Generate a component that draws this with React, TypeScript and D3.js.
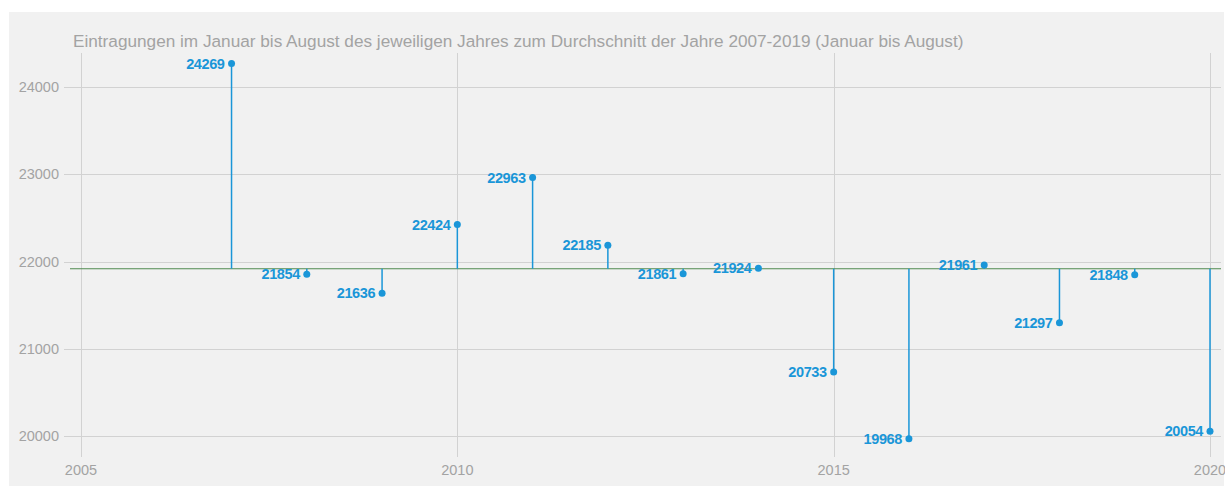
import { useEffect, useRef } from 'react';
import * as d3 from 'd3';

const years = [2007, 2008, 2009, 2010, 2011, 2012, 2013, 2014, 2015, 2016, 2017, 2018, 2019, 2020];
const values = [24269, 21854, 21636, 22424, 22963, 22185, 21861, 21924, 20733, 19968, 21961, 21297, 21848, 20054];
const xTicks = [2005, 2010, 2015, 2020];
const yTicks = [20000, 21000, 22000, 23000, 24000];
const title =
  'Eintragungen im Januar bis August des jeweiligen Jahres zum Durchschnitt der Jahre 2007-2019 (Januar bis August)';

const App = () => {
  const svgRef = useRef<SVGSVGElement>(null!);

  useEffect(() => {
    const width = 1225;
    const height = 486;
    const blue = '#1a96d8';
    const grey = '#a3a3a3';
    const font = 'Liberation Sans, Arial, sans-serif';

    const x = d3.scaleLinear().domain([2005, 2020]).range([81, 1210]);
    const y = d3.scaleLinear().domain([20000, 24000]).range([436, 87]);

    // average of 2007-2019
    const base = d3.mean(values.slice(0, 13)) ?? 0;

    const svg = d3.select(svgRef.current).attr('width', width).attr('height', height);
    svg.selectAll('*').remove();

    svg.append('rect').attr('x', 9).attr('y', 12).attr('width', 1215).attr('height', 474).attr('fill', '#f1f1f1');

    const grid = svg.append('g').attr('stroke', '#d2d2d2').attr('stroke-width', 1);
    grid
      .selectAll('line.h')
      .data(yTicks)
      .enter()
      .append('line')
      .attr('x1', 64)
      .attr('x2', 1221)
      .attr('y1', d => Math.round(y(d)) + 0.5)
      .attr('y2', d => Math.round(y(d)) + 0.5);
    grid
      .selectAll('line.v')
      .data(xTicks)
      .enter()
      .append('line')
      .attr('x1', d => Math.round(x(d)) + 0.5)
      .attr('x2', d => Math.round(x(d)) + 0.5)
      .attr('y1', 53)
      .attr('y2', 457);

    svg
      .append('g')
      .selectAll('text')
      .data(yTicks)
      .enter()
      .append('text')
      .attr('x', 59)
      .attr('y', d => y(d))
      .attr('dy', '0.35em')
      .attr('text-anchor', 'end')
      .attr('fill', grey)
      .attr('font-family', font)
      .attr('font-size', 14.5)
      .text(d => d);

    svg
      .append('g')
      .selectAll('text')
      .data(xTicks)
      .enter()
      .append('text')
      .attr('x', d => x(d))
      .attr('y', 475)
      .attr('text-anchor', 'middle')
      .attr('fill', grey)
      .attr('font-family', font)
      .attr('font-size', 14.5)
      .text(d => d);

    svg
      .append('text')
      .attr('x', 73)
      .attr('y', 47)
      .attr('fill', grey)
      .attr('font-family', font)
      .attr('font-size', 17.2)
      .text(title);

    svg
      .append('line')
      .attr('x1', 70)
      .attr('x2', 1221)
      .attr('y1', y(base))
      .attr('y2', y(base))
      .attr('stroke', '#4f8a4f')
      .attr('stroke-width', 1.2);

    const data = years.map((yr, i) => ({ yr, v: values[i] }));

    svg
      .append('g')
      .selectAll('line')
      .data(data)
      .enter()
      .append('line')
      .attr('x1', d => x(d.yr))
      .attr('x2', d => x(d.yr))
      .attr('y1', y(base))
      .attr('y2', d => y(d.v))
      .attr('stroke', blue)
      .attr('stroke-width', 1.5);

    svg
      .append('g')
      .selectAll('circle')
      .data(data)
      .enter()
      .append('circle')
      .attr('cx', d => x(d.yr))
      .attr('cy', d => y(d.v))
      .attr('r', 3.5)
      .attr('fill', blue);

    svg
      .append('g')
      .selectAll('text')
      .data(data)
      .enter()
      .append('text')
      .attr('x', d => x(d.yr) - 7)
      .attr('y', d => y(d.v))
      .attr('dy', '0.35em')
      .attr('text-anchor', 'end')
      .attr('fill', blue)
      .attr('font-family', font)
      .attr('font-size', 14.5)
      .attr('font-weight', 'bold')
      .attr('letter-spacing', -0.4)
      .text(d => d.v);

    return () => {
      svgRef.current.innerHTML = '';
    };
  }, []);

  return <svg ref={svgRef} style={{ display: 'block', position: 'absolute', left: 0, top: 0 }}></svg>;
};

export default App;
